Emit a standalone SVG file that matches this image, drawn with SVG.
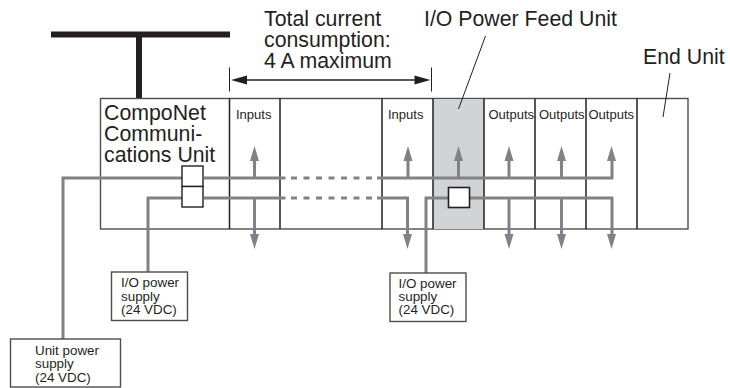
<svg xmlns="http://www.w3.org/2000/svg" width="730" height="388" viewBox="0 0 730 388">
<style>
text{font-family:"Liberation Sans",Arial,sans-serif;fill:#231f20}
.big{font-size:21.3px}
.mid{font-size:13px}
.sm{font-size:13.4px}
.box{fill:#fff;stroke:#4d4d4f;stroke-width:1.4}
.div{stroke:#231f20;stroke-width:1.5;fill:none}
.g{stroke:#808285;stroke-width:3;fill:none}
.dash{stroke-dasharray:6 6.5}
.ah{fill:#808285}
.lead{stroke:#231f20;stroke-width:1;fill:none}
</style>
<defs>
<path id="up" class="ah" d="M0 0L-4.500 15H4.500Z"/>
<path id="dn" class="ah" d="M0 0L-4.500 -15H4.500Z"/>
</defs>
<g id="network-cable"><rect x="51" y="31.500" width="179" height="6" fill="#231f20"/><rect x="136" y="37" width="6" height="62" fill="#231f20"/></g>
<g id="unit-rack">
<rect class="box" x="100.500" y="98.500" width="587.500" height="130.500"/>
<rect x="433" y="99" width="51" height="130" fill="#d1d3d4"/>
<path class="div" d="M229.500 98.500V229M280 98.500V229M382 98.500V229M433 98.500V229M484 98.500V229M535 98.500V229M586 98.500V229M637 98.500V229"/>
</g>
<g id="compo-net"><text class="big" x="104" y="120">CompoNet</text><text class="big" x="104" y="141">Communi-</text><text class="big" x="104" y="162">cations Unit</text></g>
<g id="slot-labels">
<text class="mid" x="236" y="119">Inputs</text><text class="mid" x="388" y="119">Inputs</text>
<text class="mid" x="488.500" y="119">Outputs</text><text class="mid" x="539" y="119">Outputs</text><text class="mid" x="588.500" y="119">Outputs</text>
</g>
<g id="connectors">
<path class="g" d="M63 339V178H182M204 178H285.500"/>
<path class="g dash" d="M291 178H372"/>
<path class="g" d="M377 178H612V160"/>
<path class="g" d="M148 272V198H182M204 198H285.500"/>
<path class="g dash" d="M291 198H372"/>
<path class="g" d="M377 198H407.500V236"/>
<path class="g" d="M426 273V198H449M470 198H612V236"/>
<path class="g" d="M254.500 178V160M254.500 198V236M408 178V160M458.500 178V160M509 178V160M561.500 178V160M509 198V236M561.500 198V236"/>
<use href="#up" x="254.500" y="146"/><use href="#up" x="408" y="146"/><use href="#up" x="458.500" y="146"/><use href="#up" x="509" y="146"/><use href="#up" x="561.500" y="146"/><use href="#up" x="611.500" y="146"/>
<use href="#dn" x="254.500" y="249"/><use href="#dn" x="407.500" y="249"/><use href="#dn" x="509" y="249"/><use href="#dn" x="561.500" y="249"/><use href="#dn" x="611.500" y="249"/>
<path class="lead" d="M229.500 67.500V91.500M431.500 67.500V91.500"/>
<path class="lead" style="stroke-width:1.500" d="M240 80H422"/>
<path fill="#231f20" d="M231 80L247 75.500V84.500ZM430.500 80L414.500 75.500V84.500Z"/>
<path class="lead" d="M485.500 36L458.500 109M670 73L663 117"/>
</g>
<g id="terminal-a"><rect class="box" style="stroke:#231f20" x="182" y="166" width="21" height="20.500"/><rect class="box" style="stroke:#231f20" x="182" y="186.500" width="21" height="20.500"/></g>
<g id="terminal-b"><rect x="448.500" y="187.500" width="21" height="20" fill="#fff" stroke="#231f20" stroke-width="1.600"/></g>
<g id="total-current"><text class="big" x="264" y="26">Total current</text><text class="big" x="264" y="47">consumption:</text><text class="big" x="264" y="68">4 A maximum</text></g>
<g id="io-feed-unit"><text class="big" x="424" y="26">I/O Power Feed Unit</text></g>
<g id="end-unit"><text class="big" x="643" y="64">End Unit</text></g>
<g id="io-supply-a"><rect class="box" x="111.500" y="272" width="76" height="48.500"/><text class="sm" x="121" y="287">I/O power</text><text class="sm" x="121" y="300.500">supply</text><text class="sm" x="121" y="314">(24 VDC)</text></g>
<g id="io-supply-b"><rect class="box" x="390" y="273" width="76" height="48.500"/><text class="sm" x="398.500" y="288">I/O power</text><text class="sm" x="398.500" y="301">supply</text><text class="sm" x="398.500" y="314">(24 VDC)</text></g>
<g id="unit-supply"><rect class="box" x="10.500" y="339" width="110" height="48"/><text class="sm" x="35" y="355">Unit power</text><text class="sm" x="35" y="368">supply</text><text class="sm" x="35" y="381.500">(24 VDC)</text></g>
</svg>
